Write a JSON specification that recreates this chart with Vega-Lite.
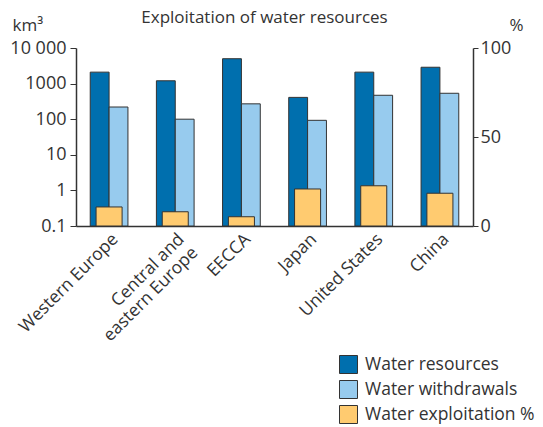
{
  "$schema": "https://vega.github.io/schema/vega-lite/v6.json",
  "width": 397,
  "height": 178,
  "autosize": "none",
  "padding": {"left": 76, "top": 48, "right": 70, "bottom": 201},
  "background": "white",
  "config": {
    "font": "Open Sans",
    "view": {"stroke": null},
    "axis": {"labelColor": "#333", "titleColor": "#333", "domainColor": "#333", "tickColor": "#333", "grid": false, "labelFontWeight": "normal", "titleFontWeight": "normal"}
  },
  "title": {"text": "Exploitation of water resources", "fontSize": 17, "fontWeight": "normal", "color": "#333", "anchor": "middle", "dx": -10, "offset": -11},
  "data": {
    "values": [
      {"region": "Western Europe", "series": "Water resources", "value": 2100},
      {"region": "Western Europe", "series": "Water withdrawals", "value": 220},
      {"region": "Western Europe", "series": "Water exploitation %", "value": 10.7},
      {"region": "Central and eastern Europe", "series": "Water resources", "value": 1200},
      {"region": "Central and eastern Europe", "series": "Water withdrawals", "value": 100},
      {"region": "Central and eastern Europe", "series": "Water exploitation %", "value": 8.0},
      {"region": "EECCA", "series": "Water resources", "value": 5000},
      {"region": "EECCA", "series": "Water withdrawals", "value": 270},
      {"region": "EECCA", "series": "Water exploitation %", "value": 5.2},
      {"region": "Japan", "series": "Water resources", "value": 410},
      {"region": "Japan", "series": "Water withdrawals", "value": 93},
      {"region": "Japan", "series": "Water exploitation %", "value": 20.8},
      {"region": "United States", "series": "Water resources", "value": 2100},
      {"region": "United States", "series": "Water withdrawals", "value": 470},
      {"region": "United States", "series": "Water exploitation %", "value": 22.6},
      {"region": "China", "series": "Water resources", "value": 2880},
      {"region": "China", "series": "Water withdrawals", "value": 535},
      {"region": "China", "series": "Water exploitation %", "value": 18.4}
    ]
  },
  "layer": [
    {
      "transform": [{"filter": "datum.series != 'Water exploitation %'"}],
      "mark": {"type": "bar", "stroke": "#333", "strokeWidth": 1},
      "encoding": {
        "x": {
          "field": "region", "type": "nominal", "sort": null,
          "scale": {"paddingInner": 0.43, "paddingOuter": 0.215},
          "axis": {"title": null, "labelAngle": -45, "labelFontSize": 17.5, "ticks": false, "labelPadding": 4, "domainWidth": 1.5, "labelLineHeight": 19,
                   "labelExpr": "datum.label == 'Central and eastern Europe' ? ['Central and', 'eastern Europe'] : datum.label"}
        },
        "xOffset": {"field": "series", "sort": ["Water resources", "Water withdrawals"]},
        "y": {
          "field": "value", "type": "quantitative",
          "scale": {"type": "log", "domain": [0.1, 10000]},
          "axis": {"values": [0.1, 1, 10, 100, 1000, 10000], "labelFontSize": 18, "tickSize": 6, "labelPadding": 4, "domainWidth": 1.5,
                   "labelExpr": "datum.value >= 10000 ? '10 000' : datum.value < 0.5 ? '0.1' : format(datum.value, 'd')",
                   "title": "km³", "titleFontSize": 17, "titleAngle": 0, "titleAlign": "left", "titleBaseline": "bottom", "titleX": -64, "titleY": -14}
        },
        "y2": {"datum": 0.1},
        "color": {
          "field": "series", "type": "nominal",
          "scale": {"domain": ["Water resources", "Water withdrawals", "Water exploitation %"], "range": ["#006fae", "#97cbee", "#ffcb70"]},
          "legend": {"title": null, "orient": "none", "legendX": 263, "legendY": 307, "symbolType": "square", "symbolSize": 324, "symbolStrokeColor": "#333", "symbolStrokeWidth": 1, "labelFontSize": 17.5, "labelLimit": 400, "labelColor": "#333", "rowPadding": 2, "labelOffset": 7, "padding": 0}
        }
      }
    },
    {
      "transform": [{"filter": "datum.series == 'Water exploitation %'"}],
      "mark": {"type": "bar", "stroke": "#333", "strokeWidth": 1, "width": {"band": 0.69}},
      "encoding": {
        "x": {"field": "region", "type": "nominal", "sort": null},
        "y": {
          "field": "value", "type": "quantitative",
          "scale": {"domain": [0, 100]},
          "axis": {"orient": "right", "values": [0, 50, 100], "labelFontSize": 18, "tickSize": 5, "labelPadding": 2, "domainWidth": 1.5,
                   "title": "%", "titleFontSize": 17, "titleAngle": 0, "titleAlign": "left", "titleBaseline": "bottom", "titleX": 36, "titleY": -14}
        },
        "color": {"field": "series", "type": "nominal"}
      }
    }
  ],
  "resolve": {"scale": {"y": "independent"}}
}
